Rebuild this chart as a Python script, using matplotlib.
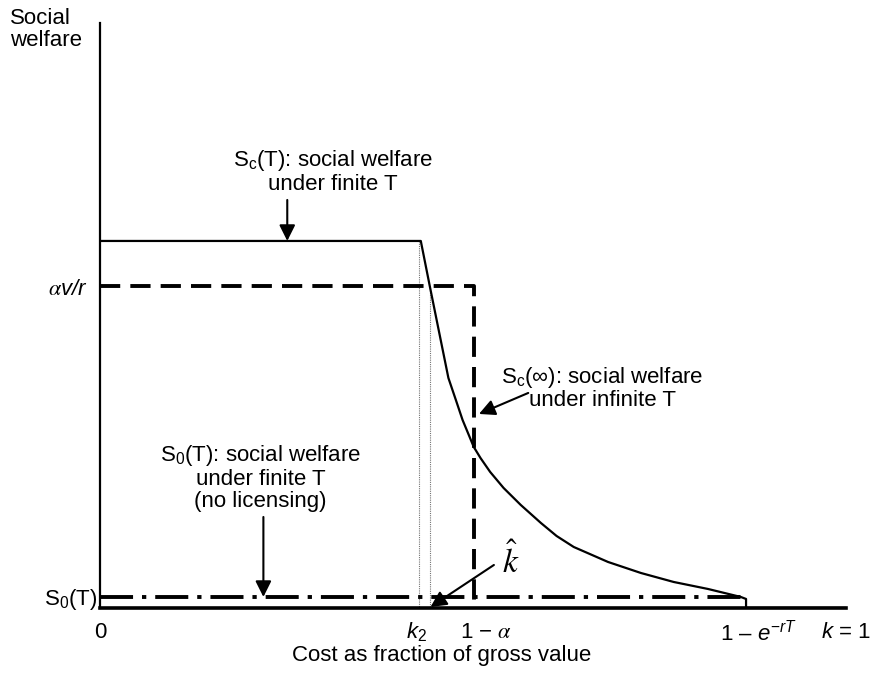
import matplotlib
matplotlib.use("Agg")
import matplotlib.pyplot as plt

plt.rcParams['font.family'] = ['Liberation Sans', 'DejaVu Sans']
plt.rcParams['mathtext.fontset'] = 'custom'
plt.rcParams['mathtext.rm'] = 'Liberation Sans'
plt.rcParams['mathtext.it'] = 'Liberation Sans:italic'
plt.rcParams['mathtext.bf'] = 'Liberation Sans:bold'

# cost k as fraction of gross value (k = 1 at the right end)
k2 = 0.427
k_hat = 0.443
one_minus_alpha = 0.501
one_minus_exp = 0.866

# welfare levels
sc_top = 3.67      # S_c(T) on the flat part
alpha_v_r = 3.22   # S_c(inf) level
s0_level = 0.11    # S_0(T)

# S_c(T) curve
sc_k = [0.0, 0.430, 0.442, 0.467, 0.477, 0.486, 0.501, 0.510, 0.523, 0.541,
        0.564, 0.591, 0.612, 0.635, 0.681, 0.725, 0.769, 0.815, 0.859, 0.866,
        0.866, 1.0]
sc_w = [3.67, 3.67, 3.22, 2.30, 2.08, 1.88, 1.61, 1.50, 1.36, 1.20,
        1.03, 0.85, 0.72, 0.61, 0.46, 0.35, 0.26, 0.19, 0.11, 0.09,
        0.0, 0.0]

# S_c(inf) step
sinf_k = [0.0, one_minus_alpha, one_minus_alpha]
sinf_w = [alpha_v_r, alpha_v_r, 0.0]

# S_0(T) flat line
s0_k = [0.0, one_minus_exp]
s0_w = [s0_level, s0_level]

fig = plt.figure(figsize=(8.72, 6.75), dpi=100)
ax = fig.add_axes([0.1147, 0.0993, 0.8555, 0.8667])
ax.set_xlim(0, 1.0)
ax.set_ylim(0, 5.85)
for s in ['top', 'right']:
    ax.spines[s].set_visible(False)
ax.spines['left'].set_linewidth(1.6)
ax.spines['bottom'].set_linewidth(2.6)
ax.set_xticks([])
ax.set_yticks([])

# thin dotted guides at k2 and k-hat
ax.plot([k2, k2], [sc_top, 0], color='0.45', lw=0.8, ls=(0, (1, 1)))
ax.plot([k_hat, k_hat], [3.2, 0], color='0.45', lw=0.8, ls=(0, (1, 1)))

ax.plot(sc_k, sc_w, color='black', lw=1.6)
ax.plot(sinf_k, sinf_w, color='black', lw=2.8, ls=(0, (5.2, 2.6)))
ax.plot(s0_k, s0_w, color='black', lw=2.8, ls=(0, (8.5, 2.3, 1.1, 2.3)))

fs = 16
arrow = dict(arrowstyle='-|>', color='black', lw=1.5, mutation_scale=24,
             shrinkA=0, shrinkB=0)

ax.text(0.312, 4.365, 'S$_\\mathrm{c}$(T): social welfare\nunder finite T',
        fontsize=fs, ha='center', va='center', multialignment='center',
        linespacing=1.05)
ax.annotate('', xy=(0.251, sc_top), xytext=(0.251, 4.08), arrowprops=arrow)

ax.text(0.673, 2.20, 'S$_\\mathrm{c}$(∞): social welfare\nunder infinite T',
        fontsize=fs, ha='center', va='center', multialignment='center',
        linespacing=1.05)
ax.annotate('', xy=(0.508, 1.94), xytext=(0.574, 2.15), arrowprops=arrow)

ax.text(0.215, 1.305, 'S$_\\mathrm{0}$(T): social welfare\nunder finite T\n(no licensing)',
        fontsize=fs, ha='center', va='center', multialignment='center',
        linespacing=1.05)
ax.annotate('', xy=(0.219, s0_level), xytext=(0.219, 0.91), arrowprops=arrow)

ax.text(0.550, 0.47, r'$\hat{k}$', fontsize=24, ha='center', va='center',
        math_fontfamily='stix')
ax.annotate('', xy=(k_hat, 0.01), xytext=(0.528, 0.43), arrowprops=arrow)

# axis labels drawn as text
ax.text(-0.017, 3.18, r'$\alpha$v/r', fontsize=fs, style='italic', ha='right',
        va='center', math_fontfamily='stix')
ax.text(-0.004, 0.08, 'S$_\\mathrm{0}$(T)', fontsize=fs, ha='right', va='center')

ylab = -0.245
ax.text(0.0, ylab, '0', fontsize=fs, ha='center', va='center')
ax.text(0.424, ylab, r'$k_2$', fontsize=fs, ha='center', va='center')
ax.text(0.518, ylab, r'1 − $\alpha$', fontsize=fs, ha='center', va='center',
        math_fontfamily='stix')
ax.text(0.883, ylab, r'1 – $e^{-rT}$', fontsize=fs, ha='center', va='center')
ax.text(1.0, ylab, r'$k$ = 1', fontsize=fs, ha='center', va='center')
ax.text(0.458, -0.48, 'Cost as fraction of gross value', fontsize=fs,
        ha='center', va='center')

fig.text(10 / 872, 1 - 8 / 675, 'Social\nwelfare', fontsize=fs, ha='left',
         va='top', linespacing=1.05)

fig.savefig('out.png', dpi=100)
